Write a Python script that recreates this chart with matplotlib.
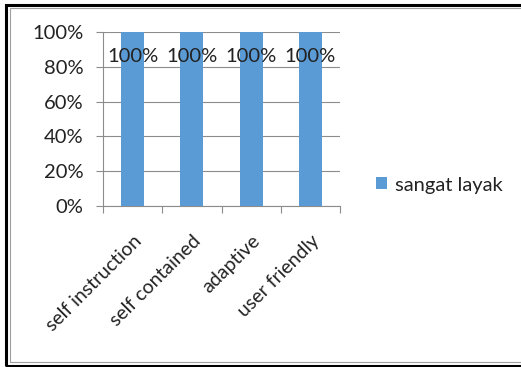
import matplotlib.pyplot as plt
from matplotlib.patches import Rectangle
import numpy as np

# chart data
categories = ["self instruction", "self contained", "adaptive", "user friendly"]
values = [1.0, 1.0, 1.0, 1.0]
series_name = "sangat layak"
y_ticks = [0, 0.2, 0.4, 0.6, 0.8, 1.0]

plt.rcParams['font.family'] = ['Lato', 'DejaVu Sans']

fig = plt.figure(figsize=(5.21, 3.67), dpi=100)

# outer frame + inner gray frame
fig.patches.append(Rectangle((6 / 521, 1 - 366 / 367), 1.2, 361 / 367,
                             transform=fig.transFigure, fill=False,
                             edgecolor='black', linewidth=2.2))
fig.patches.append(Rectangle((10 / 521, 1 - 362 / 367), 1.2, 354 / 367,
                             transform=fig.transFigure, fill=False,
                             edgecolor='#a0a0a0', linewidth=0.8))

ax = fig.add_axes([103 / 521, 1 - 206 / 367, 237 / 521, 174 / 367])

x = np.arange(len(categories))
bars = ax.bar(x, values, width=0.39, color='#5b9bd5', zorder=3, label=series_name)

fs = 14.5
for xi, v in zip(x, values):
    ax.text(xi, v * 0.86, f"{v:.0%}", ha='center', va='center',
            fontsize=fs, color='#222222', zorder=4)

ax.set_xlim(-0.5, len(categories) - 0.5)
ax.set_ylim(0, 1.0)
ax.set_yticks(y_ticks)
ax.set_yticklabels([f"{t:.0%}" for t in y_ticks], fontsize=fs, color='#222222')
ax.yaxis.grid(True, color='#8c8c8c', linewidth=0.8, zorder=0)

# category boundaries as ticks, labels at centers
ax.set_xticks(np.arange(len(categories) + 1) - 0.5)
ax.set_xticklabels([])
ax.set_xticks(x, minor=True)
ax.set_xticklabels(categories, minor=True, rotation=45, ha='right',
                   rotation_mode='anchor', fontsize=14, color='#222222')
ax.tick_params(axis='x', which='minor', length=0, pad=19)
ax.tick_params(axis='x', which='major', length=5, color='#8c8c8c')
ax.tick_params(axis='y', length=5, color='#8c8c8c', pad=9)

for side in ['top', 'right']:
    ax.spines[side].set_visible(False)
for side in ['left', 'bottom']:
    ax.spines[side].set_color('#8c8c8c')

fig.legend(handles=[bars], labels=[series_name], loc='center left',
           bbox_to_anchor=(358 / 521, 1 - 185 / 367), frameon=False,
           fontsize=fs, handlelength=0.55, handleheight=0.55, handletextpad=0.4,
           labelcolor='#222222')

fig.savefig("out.png", dpi=100)
